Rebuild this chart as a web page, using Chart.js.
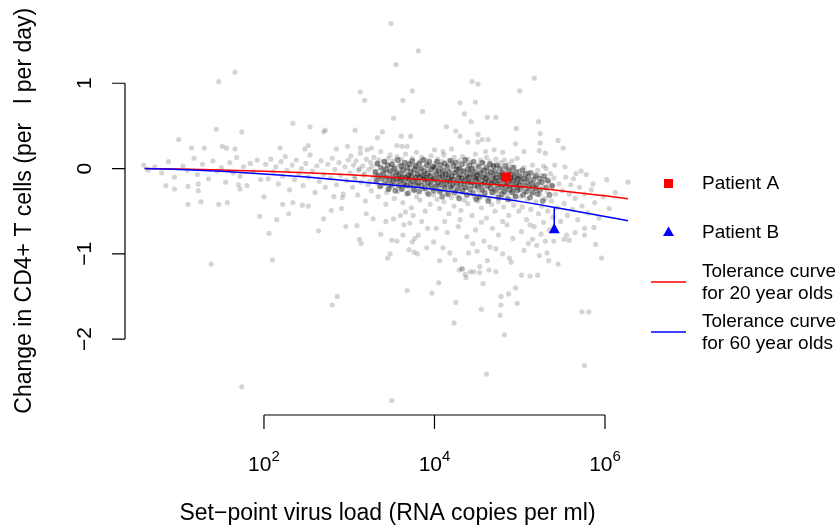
<!DOCTYPE html>
<html>
<head>
<meta charset="utf-8">
<script src="https://cdn.jsdelivr.net/npm/chart.js@4.4.1/dist/chart.umd.min.js"></script>
<style>
  body { margin: 0; background: #fff; }
</style>
</head>
<body>
<canvas id="chartCD4" width="838" height="526"></canvas>
<script>
// values are [log10 set-point virus load, change in CD4+ T cells per ul per day]
const spreadLeft = [
  [0.59,0.04],[0.64,-0.02],[0.72,0.02],[0.8,-0.05],[0.85,-0.2],[0.88,0.08],[0.95,-0.1],[0.95,-0.24],
  [1.05,0.03],[1.1,-0.02],[1.11,-0.21],[1.11,-0.42],[1.18,0.12],[1.22,-0.07],[1.23,-0.18],[1.23,-0.26],
  [1.26,-0.39],[1.28,0.05],[1.35,-0.12],[1.38,-1.12],[1.4,0.09],[1.45,-0.03],[1.47,-0.42],[1.5,0.01],
  [1.55,-0.16],[1.57,-0.4],[1.6,0.07],[1.64,-0.05],[1.68,0.13],[1.7,-0.19],[1.72,-0.09],[1.72,-0.24],
  [1.74,-2.56],[1.76,0.02],[1.8,-0.2],[1.84,0.06],[1.88,-0.04],[1.92,0.1],[1.95,-0.56],[1.96,-0.13],
  [2.0,-0.33],[2.02,0.05],[2.05,-0.12],[2.06,-0.76],[2.08,0.11],[2.1,-1.07],[2.11,-0.04],[2.14,0.02],
  [2.15,-0.6],[2.17,-0.18],[2.2,0.08],[2.22,-0.09],[2.22,-0.42],[2.25,0.14],[2.27,-0.02],[2.29,-0.53],
  [2.3,-0.25],[2.33,0.04],[2.34,-0.4],[2.36,-0.13],[2.38,0.1],[2.41,-0.06],[2.44,0.0],[2.45,-0.43],
  [2.46,-0.2],[2.49,0.06],[2.52,-0.1],[2.52,-0.44],[2.54,0.16],[2.57,-0.03],[2.6,-0.28],[2.62,0.03],
  [2.64,-0.73],[2.65,-0.15],[2.67,0.09],[2.7,-0.07],[2.7,-0.59],[2.72,-0.22],[2.75,0.05],[2.78,-0.11],
  [2.79,-0.49],[2.8,0.12],[2.8,-1.6],[2.82,-0.33],[2.83,-0.01],[2.85,-0.19],[2.86,-1.5],[2.88,0.07],
  [2.9,-0.08],[2.91,-0.47],[2.92,-0.34],[2.93,-0.3],[2.95,0.02],[2.96,-0.68],[2.97,-0.14],[2.99,0.1]
];

const cloudCore = [
  [3.01,-0.05],[3.02,0.15],[3.04,-0.22],[3.05,0.04],[3.06,-0.09],[3.07,-0.12],[3.08,0.09],[3.09,-0.67],
  [3.1,-0.31],[3.11,-0.02],[3.12,0.0],[3.12,-0.83],[3.13,0.18],[3.14,-0.16],[3.14,-0.88],[3.16,0.03],
  [3.17,-0.08],[3.18,-0.06],[3.19,-0.38],[3.2,0.11],[3.2,-0.53],[3.22,-0.19],[3.23,-0.01],[3.24,-0.15],
  [3.25,0.07],[3.26,-0.26],[3.27,0.02],[3.28,-0.1],[3.28,-0.59],[3.29,0.13],[3.3,-0.04],[3.31,-0.09],
  [3.32,-0.14],[3.33,0.05],[3.34,-0.33],[3.35,0.1],[3.36,-0.07],[3.37,0.2],[3.37,-0.77],[3.38,-0.2],
  [3.39,-0.05],[3.4,0.0],[3.41,-0.11],[3.42,0.08],[3.43,-0.42],[3.43,-0.62],[3.44,-0.03],[3.44,-0.28],
  [3.45,-0.17],[3.46,0.12],[3.47,-0.24],[3.48,-0.06],[3.48,0.16],[3.49,0.03],[3.5,-0.13],[3.5,-0.84],
  [3.51,-0.02],[3.51,-0.21],[3.52,0.09],[3.52,-0.59],[3.53,-0.12],[3.53,-0.35],[3.54,0.02],[3.55,-0.08],
  [3.55,-0.18],[3.56,0.14],[3.56,-0.85],[3.57,-0.04],[3.57,-0.27],[3.58,-0.11],[3.59,0.05],[3.59,-0.15],
  [3.6,-0.01],[3.6,-0.55],[3.61,-0.23],[3.61,0.11],[3.62,-0.07],[3.63,-0.4],[3.63,-0.13],[3.63,-0.78],
  [3.64,0.03],[3.64,-0.66],[3.65,-0.19],[3.65,-0.05],[3.66,0.17],[3.66,-0.51],[3.67,-0.1],[3.67,-0.3],
  [3.68,-0.02],[3.69,-0.16],[3.69,0.07],[3.7,-0.08],[3.7,-0.95],[3.71,-0.22],[3.71,-0.12],[3.71,-0.64],
  [3.72,0.01],[3.73,-0.46],[3.73,-0.06],[3.74,0.12],[3.74,-0.86],[3.75,-0.18],[3.75,-0.03],[3.75,-0.55],
  [3.76,-0.26],[3.76,-0.98],[3.77,0.04],[3.77,-0.1],[3.77,-0.82],[3.78,-0.14],[3.79,0.19],[3.79,-0.33],
  [3.8,-0.07],[3.8,-1.0],[3.81,0.0],[3.81,-0.2],[3.81,-0.78],[3.82,-0.11],[3.83,0.08],[3.83,-0.37],
  [3.84,-0.04],[3.85,-0.15],[3.85,0.13],[3.85,-0.62],[3.86,-0.24],[3.87,-0.09],[3.87,0.02],[3.88,-0.17],
  [3.89,-0.5],[3.89,-0.06],[3.9,0.1],[3.91,-0.13],[3.91,-0.28],[3.91,-0.93],[3.92,-0.01],[3.92,-0.7],
  [3.93,-0.2],[3.93,0.05],[3.94,-0.09],[3.95,-0.42],[3.95,-0.16],[3.96,0.15],[3.97,-0.05],[3.97,-0.23],
  [3.98,-0.12],[3.99,0.03],[3.99,-0.31],[3.99,-0.86],
  [4.0,-0.08],[4.01,-0.19],[4.01,0.06],[4.02,-0.14],[4.02,-0.7],[4.03,-0.36],[4.03,-0.03],[4.04,0.11],
  [4.05,-0.22],[4.05,-0.1],[4.06,-0.47],[4.07,0.0],[4.07,-0.17],[4.08,-0.27],[4.09,0.08],[4.09,-0.06],
  [4.1,-0.13],[4.1,-0.93],[4.11,-0.39],[4.11,0.16],[4.12,-0.21],[4.12,-0.62],[4.13,-0.04],[4.13,-0.11],
  [4.14,-0.3],[4.15,0.04],[4.15,-0.16],[4.15,-0.75],[4.16,-0.08],[4.17,-0.53],[4.17,0.1],[4.18,-0.24],
  [4.18,-0.99],[4.19,-0.02],[4.19,-0.14],[4.2,-0.34],[4.21,0.07],[4.21,-0.09],[4.22,-0.19],[4.23,0.13],
  [4.23,-0.44],[4.24,-0.05],[4.25,-0.26],[4.25,-0.12],[4.26,0.02],[4.27,-0.17],[4.27,-0.32],[4.28,-0.07],
  [4.28,-0.68],[4.29,0.09],[4.29,-0.22],[4.3,-0.14],[4.3,-0.6],[4.31,-0.49],[4.31,-0.01],[4.32,-0.1],
  [4.33,0.14],[4.33,-0.28],[4.34,-0.18],[4.35,-0.04],[4.35,-0.37],[4.36,0.05],[4.37,-0.12],[4.37,-0.23],
  [4.38,-0.07],[4.38,-0.8],[4.39,0.11],[4.39,-0.41],[4.4,-0.15],[4.4,-0.99],[4.41,-0.02],[4.41,-0.29],
  [4.42,-0.1],[4.43,0.07],[4.43,-0.2],[4.44,-0.55],[4.45,-0.05],[4.45,-0.16],[4.45,-0.88],[4.46,0.01],
  [4.47,-0.33],[4.47,-0.11],[4.48,0.17],[4.48,-0.72],[4.49,-0.25],[4.49,-0.08],
  [4.5,-0.13],[4.5,-0.97],[4.51,0.04],[4.51,-0.38],[4.52,-0.2],[4.53,-0.06],[4.53,-0.27],[4.54,0.1],
  [4.55,-0.15],[4.55,-0.46],[4.55,-0.63],[4.56,-0.02],[4.57,-0.22],[4.57,-0.1],[4.58,0.06],[4.58,-0.85],
  [4.59,-0.32],[4.59,-0.17],[4.6,-0.07],[4.61,-0.58],[4.61,0.13],[4.62,-0.24],[4.62,-1.08],[4.63,-0.12],
  [4.63,-0.01],[4.64,-0.35],[4.65,-0.19],[4.65,0.08],[4.65,-0.92],[4.66,-0.09],[4.67,-0.42],[4.67,-0.28],
  [4.68,-0.04],[4.68,-0.7],[4.69,-0.16],[4.69,0.02],[4.7,-0.23],[4.71,-0.5],[4.71,-0.11],[4.72,0.11],
  [4.72,-0.94],[4.73,-0.3],[4.73,-0.06],[4.74,-0.18],[4.75,-0.39],[4.75,0.03],[4.75,-0.78],[4.76,-0.14],
  [4.77,-0.26],[4.77,-0.08],[4.78,0.07],[4.79,-0.34],[4.79,-0.2],[4.8,-0.02],[4.8,-0.62],[4.8,-1.0],
  [4.81,-0.12],[4.81,-0.45],[4.82,0.1],[4.83,-0.25],[4.83,-0.07],[4.84,-0.17],[4.85,0.0],[4.85,-0.31],
  [4.85,-0.66],[4.86,-0.1],[4.87,-0.55],[4.87,0.05],[4.88,-0.21],[4.88,-1.05],[4.89,-0.13],[4.89,-0.37],
  [4.9,-0.04],[4.9,-1.1],[4.91,0.09],[4.91,-0.27],[4.92,-0.16],[4.92,-0.82],[4.93,-0.06],[4.93,-0.43],
  [4.94,0.02],[4.95,-0.19],[4.95,-0.32],[4.96,-0.09],[4.97,0.12],[4.97,-0.24],[4.98,-0.14],[4.99,-0.5],
  [4.99,-0.03],
  [5.0,-0.18],[5.01,-0.33],[5.02,-0.08],[5.02,-0.74],[5.03,-0.45],[5.04,-0.21],[5.05,0.01],[5.05,-0.96],
  [5.06,-0.27],[5.07,-0.12],[5.08,-0.6],[5.09,-0.36],[5.1,-0.05],[5.1,-0.88],[5.11,-0.24],[5.12,-0.15],
  [5.12,-0.66],[5.13,-0.48],[5.14,-0.3],[5.15,0.04],[5.15,-0.83],[5.16,-0.2],[5.17,-0.68],[5.18,-0.1],
  [5.19,-0.39],[5.2,-0.26],[5.2,-0.9],[5.21,-0.02],[5.22,-0.53],[5.23,-0.17],[5.24,-0.31],[5.25,-0.08],
  [5.25,-0.77],[5.26,-0.44],[5.27,-0.22],[5.28,-0.63],[5.29,-0.13],[5.3,-0.35],[5.3,-0.85],[5.31,0.0],
  [5.32,-0.27],[5.33,-0.5],[5.34,-0.16],[5.35,-0.72],[5.36,-0.06],[5.37,-0.38],[5.38,-0.21],[5.39,-0.57],
  [5.4,-0.11],[5.4,-0.68],[5.4,-0.85],[5.42,-0.3],[5.44,-0.46],[5.46,-0.18],[5.48,-0.62],
  [5.5,-0.26],[5.52,-0.41],[5.52,-0.83],[5.54,-0.1],[5.55,-0.78],[5.56,-0.55],[5.58,-0.3],[5.58,-0.84],
  [5.6,-0.19],[5.62,-0.48],[5.65,-0.35],[5.65,-0.75],[5.68,-0.6],[5.7,-0.22],[5.73,-0.44],[5.76,-0.3],
  [5.8,-0.52],[5.84,-0.25],[5.88,-0.4],[5.93,-0.58],[5.98,-0.33],[6.05,-0.47],[6.12,-0.28]
];

// the darkest band, where most individuals overlap
const cloudDense = [
  [3.31,-0.04],[3.32,-0.15],[3.33,0.06],[3.34,-0.09],[3.36,-0.21],[3.37,0.01],[3.38,-0.12],
  [3.4,-0.06],[3.41,0.08],[3.42,-0.17],[3.43,-0.01],[3.44,-0.1],[3.45,0.04],[3.46,-0.24],[3.47,-0.13],
  [3.48,-0.03],[3.49,-0.19],[3.5,0.05],[3.51,-0.09],[3.52,-0.15],[3.53,0.0],[3.54,-0.26],[3.55,-0.05],
  [3.56,-0.12],[3.57,0.1],[3.58,-0.2],[3.59,-0.07],[3.6,-0.14],[3.61,0.03],[3.62,-0.1],[3.62,-0.24],
  [3.63,-0.02],[3.64,-0.17],[3.65,0.07],[3.66,-0.11],[3.67,-0.2],[3.68,0.01],[3.69,-0.08],[3.69,-0.29],
  [3.7,-0.13],[3.71,0.05],[3.72,-0.04],[3.72,-0.19],[3.73,-0.09],[3.74,0.09],[3.75,-0.15],[3.76,-0.25],
  [3.77,-0.01],[3.78,-0.11],[3.78,0.03],[3.79,-0.2],[3.8,-0.06],[3.81,-0.16],[3.82,0.06],[3.82,-0.27],
  [3.83,-0.1],[3.84,0.0],[3.85,-0.2],[3.86,-0.08],[3.87,0.1],[3.88,-0.13],[3.88,-0.03],[3.89,-0.23],
  [3.9,-0.11],[3.91,0.04],[3.92,-0.17],[3.92,-0.06],[3.93,-0.3],[3.94,0.08],[3.95,-0.09],[3.96,-0.2],
  [3.96,-0.01],[3.97,-0.14],[3.98,0.02],[3.99,-0.26],
  [4.0,-0.12],[4.01,0.01],[4.02,-0.06],[4.02,-0.21],[4.03,0.08],[4.04,-0.16],[4.05,-0.03],[4.06,-0.27],
  [4.06,-0.1],[4.07,0.04],[4.08,-0.19],[4.09,-0.08],[4.09,-0.33],[4.1,-0.02],[4.11,-0.14],[4.12,0.06],
  [4.12,-0.23],[4.13,-0.07],[4.14,-0.18],[4.15,0.02],[4.16,-0.11],[4.16,-0.3],[4.17,-0.04],[4.18,-0.15],
  [4.19,0.09],[4.19,-0.22],[4.2,-0.09],[4.21,-0.2],[4.22,0.03],[4.22,-0.13],[4.23,-0.28],[4.24,-0.05],
  [4.25,0.07],[4.26,-0.17],[4.26,-0.01],[4.27,-0.24],[4.28,-0.11],[4.29,0.0],[4.29,-0.35],[4.3,-0.07],
  [4.31,-0.19],[4.32,0.05],[4.32,-0.12],[4.33,-0.26],[4.34,-0.03],[4.35,-0.15],[4.36,0.1],[4.36,-0.22],
  [4.37,-0.09],[4.38,-0.31],[4.39,-0.01],[4.39,-0.17],[4.4,-0.11],[4.41,0.04],[4.42,-0.24],[4.42,-0.06],
  [4.43,-0.16],[4.44,0.0],[4.45,-0.29],[4.46,-0.1],[4.46,0.08],[4.47,-0.2],[4.48,-0.04],[4.49,-0.14],
  [4.49,-0.36],[4.5,-0.08],[4.51,-0.21],[4.52,0.02],[4.52,-0.12],[4.53,-0.33],[4.54,-0.05],[4.55,-0.18],
  [4.56,0.07],[4.56,-0.25],[4.57,-0.1],[4.58,-0.02],[4.59,-0.16],[4.59,-0.29],[4.6,-0.12],[4.61,0.01],
  [4.62,-0.2],[4.62,-0.07],[4.63,-0.38],[4.64,-0.14],[4.65,0.05],[4.66,-0.23],[4.66,-0.04],[4.67,-0.17],
  [4.68,-0.28],[4.69,-0.09],[4.69,0.03],[4.7,-0.15],[4.71,-0.03],[4.72,-0.25],[4.72,-0.11],[4.73,0.04],
  [4.74,-0.19],[4.75,-0.34],[4.76,-0.07],[4.76,-0.14],[4.77,0.0],[4.78,-0.22],[4.79,-0.1],[4.79,-0.3],
  [4.8,-0.05],[4.81,-0.18],[4.82,-0.27],[4.82,-0.12],[4.83,0.03],[4.84,-0.21],[4.85,-0.08],[4.86,-0.36],
  [4.86,-0.15],[4.87,-0.02],[4.88,-0.25],[4.89,-0.11],[4.89,-0.19],[4.9,-0.07],[4.91,-0.28],[4.92,-0.14],
  [4.92,0.01],[4.93,-0.22],[4.94,-0.1],[4.95,-0.33],[4.96,-0.17],[4.96,-0.04],[4.97,-0.26],[4.98,-0.12],
  [4.99,-0.2],[5.0,-0.09],[5.01,-0.24],[5.02,-0.15],[5.03,-0.02],[5.04,-0.31],[5.05,-0.12],[5.06,-0.2],
  [5.07,-0.06],[5.08,-0.27],[5.09,-0.16],[5.1,-0.1],[5.11,-0.22],[5.12,-0.34],[5.13,-0.05],[5.14,-0.18],
  [5.15,-0.28],[5.16,-0.13],[5.18,-0.23],[5.19,-0.08],[5.2,-0.19],[5.21,-0.3],[5.23,-0.12],[5.24,-0.25],
  [5.26,-0.16],[5.27,-0.38],[5.29,-0.09],[5.31,-0.22],[5.33,-0.14],[5.35,-0.31],[5.38,-0.2]
];

const outliers = [
  [3.49,1.7],[3.81,1.38],[3.55,1.22],[1.66,1.13],[1.47,1.02],[3.13,0.9],[3.18,0.8],[3.63,0.8],
  [3.74,0.91],[3.52,0.59],[2.34,0.53],[2.54,0.49],[1.44,0.46],[1.74,0.43],[2.7,0.43],[2.72,0.45],
  [3.07,0.45],[3.39,0.43],[1.0,0.34],[3.33,0.36],[3.61,0.38],[3.72,0.38],[3.56,0.27],[3.62,0.26],
  [3.68,0.26],[1.15,0.24],[1.3,0.24],[1.51,0.26],[1.56,0.24],[1.66,0.23],[2.19,0.24],[2.48,0.23],
  [2.52,0.27],[2.85,0.23],[2.98,0.26],[3.13,0.24],[3.21,0.22],[3.26,0.24],
  [5.17,1.06],[4.44,1.02],[4.51,0.99],[5.0,0.91],[4.48,0.78],[4.3,0.77],[3.86,0.67],[4.35,0.64],
  [4.62,0.6],[4.72,0.6],[4.43,0.55],[5.22,0.55],[4.14,0.49],[4.25,0.44],[4.3,0.38],[4.96,0.47],
  [5.24,0.41],[4.51,0.4],[4.56,0.34],[4.63,0.34],[4.39,0.31],[4.51,0.31],[5.45,0.33],[5.24,0.3],
  [5.51,0.24],[5.23,0.21],[4.95,0.29],[4.0,0.22],[4.1,0.2],[4.2,0.23],[4.6,0.2],[4.7,0.22],
  [4.8,0.19],[5.05,0.2],[5.3,0.18],
  [6.02,-0.13],[6.27,-0.16],[5.86,-0.18],[5.78,-0.07],[5.72,-0.03],[5.66,-0.06],[5.63,-0.12],[5.53,0.02],
  [5.41,0.04],[5.28,0.03],
  [3.45,-1.05],[3.48,-1.0],[3.5,-2.72],[3.68,-1.43],[3.97,-1.46],[4.05,-1.34],[4.25,-1.57],[4.23,-1.81],
  [4.55,-1.65],[4.61,-2.41],[4.78,-1.5],[4.87,-1.47],[4.95,-1.4],[4.97,-1.58],[4.78,-1.6],[4.77,-1.72],
  [4.82,-1.95],[5.73,-1.68],[5.81,-1.68],[5.76,-2.31],[5.96,-1.05],[5.89,-0.89],[5.76,-0.7],[5.76,-0.78],
  [5.87,-0.69],[5.45,-1.12],[5.34,-1.08],[5.32,-0.99],[5.23,-1.02],[5.21,-1.25],[5.12,-1.26],[5.02,-1.25],
  [4.72,-1.21],[4.64,-1.19],[4.53,-1.15],[4.53,-1.22],[4.46,-1.21],[4.42,-1.21],[4.36,-1.24],[4.37,-1.28],
  [4.33,-1.18],[4.29,-1.19],[4.57,-1.35],[4.06,-1.08],[4.24,-1.07],[4.32,-1.17]
];

// tolerance curves
const curve20 = [[0.6,0],[1,-0.005],[1.5,-0.018],[2,-0.033],[2.5,-0.05],[3,-0.073],[3.5,-0.103],
  [4,-0.138],[4.5,-0.172],[5,-0.212],[5.5,-0.262],[6,-0.32],[6.27,-0.353]];
const curve60 = [[0.6,0],[1,-0.01],[1.5,-0.033],[2,-0.063],[2.5,-0.1],[3,-0.145],[3.5,-0.192],
  [4,-0.245],[4.5,-0.312],[5,-0.385],[5.5,-0.472],[6,-0.562],[6.27,-0.613]];

// patients: [log10 load, observed change, curve value at that load]
const patientA = [4.84, -0.1, -0.2];
const patientB = [5.405, -0.72, -0.455];

const xTickExp = [2, 4, 6];
const yTicks = [-2, -1, 0, 1];

const toXY = arr => arr.map(p => ({ x: Math.pow(10, p[0]), y: p[1] }));
const FONT = '"Liberation Sans", Arial, Helvetica, sans-serif';

// R style axes, titles and legend
const rDecor = {
  id: "rDecor",
  afterDraw(chart) {
    const ctx = chart.ctx;
    const xs = chart.scales.x, ys = chart.scales.y, area = chart.chartArea;
    ctx.save();
    ctx.strokeStyle = "#000";
    ctx.fillStyle = "#000";
    ctx.lineWidth = 1.2;

    // x axis
    const xb = area.bottom;
    const xp = xTickExp.map(e => xs.getPixelForValue(Math.pow(10, e)));
    ctx.beginPath();
    ctx.moveTo(xp[0], xb);
    ctx.lineTo(xp[xp.length - 1], xb);
    xp.forEach(px => { ctx.moveTo(px, xb); ctx.lineTo(px, xb + 14); });
    ctx.stroke();
    xTickExp.forEach((e, i) => {
      ctx.font = "21px " + FONT;
      const w1 = ctx.measureText("10").width;
      ctx.font = "15px " + FONT;
      const w2 = ctx.measureText(String(e)).width;
      const start = xp[i] - (w1 + w2) / 2;
      ctx.textAlign = "left";
      ctx.textBaseline = "alphabetic";
      ctx.font = "21px " + FONT;
      ctx.fillText("10", start, 471);
      ctx.font = "15px " + FONT;
      ctx.fillText(String(e), start + w1, 461);
    });

    // y axis
    const yl = area.left;
    const yp = yTicks.map(v => ys.getPixelForValue(v));
    ctx.beginPath();
    ctx.moveTo(yl, yp[0]);
    ctx.lineTo(yl, yp[yp.length - 1]);
    yp.forEach(py => { ctx.moveTo(yl, py); ctx.lineTo(yl - 13, py); });
    ctx.stroke();
    ctx.font = "21px " + FONT;
    ctx.textAlign = "center";
    ctx.textBaseline = "alphabetic";
    yTicks.forEach((v, i) => {
      ctx.save();
      ctx.translate(91, yp[i]);
      ctx.rotate(-Math.PI / 2);
      ctx.fillText(v < 0 ? "\u2212" + Math.abs(v) : String(v), 0, 0);
      ctx.restore();
    });

    // titles
    ctx.font = "23px " + FONT;
    ctx.fillText("Set\u2212point virus load (RNA copies per ml)", (area.left + area.right) / 2, 520);
    ctx.save();
    ctx.translate(31, (area.top + area.bottom) / 2);
    ctx.rotate(-Math.PI / 2);
    ctx.fillText("Change in CD4+ T cells (per   l per day)", 0, 0);
    ctx.restore();

    // legend
    ctx.font = "19px " + FONT;
    ctx.textAlign = "left";
    ctx.textBaseline = "middle";
    ctx.fillStyle = "#ff0000";
    ctx.fillRect(664, 179, 9, 9);
    ctx.fillStyle = "#0000ff";
    ctx.beginPath();
    ctx.moveTo(668.5, 226.5);
    ctx.lineTo(674, 236);
    ctx.lineTo(663, 236);
    ctx.closePath();
    ctx.fill();
    ctx.lineWidth = 1.5;
    ctx.strokeStyle = "#ff0000";
    ctx.beginPath(); ctx.moveTo(651, 282); ctx.lineTo(686, 282); ctx.stroke();
    ctx.strokeStyle = "#0000ff";
    ctx.beginPath(); ctx.moveTo(651, 332); ctx.lineTo(686, 332); ctx.stroke();
    ctx.fillStyle = "#000";
    ctx.fillText("Patient A", 702, 184);
    ctx.fillText("Patient B", 702, 233);
    ctx.fillText("Tolerance curve", 702, 272);
    ctx.fillText("for 20 year olds", 702, 294);
    ctx.fillText("Tolerance curve", 702, 322);
    ctx.fillText("for 60 year olds", 702, 344);
    ctx.restore();
  }
};

const ctx = document.getElementById("chartCD4");
new Chart(ctx, {
  type: "scatter",
  data: {
    datasets: [
      {
        label: "Patient A",
        data: toXY([patientA]),
        pointStyle: "rect",
        pointRadius: 6.5,
        pointBorderWidth: 0,
        backgroundColor: "#ff0000",
        order: 0,
        clip: false
      },
      {
        label: "Patient B",
        data: toXY([patientB]),
        pointStyle: "triangle",
        pointRadius: 6.4,
        pointBorderWidth: 0,
        backgroundColor: "#0000ff",
        order: 0,
        clip: false
      },
      {
        label: "A link",
        data: toXY([[patientA[0], patientA[1]], [patientA[0], patientA[2]]]),
        showLine: true,
        pointRadius: 0,
        borderColor: "#ff0000",
        borderWidth: 1.5,
        order: 1
      },
      {
        label: "B link",
        data: toXY([[patientB[0], patientB[1]], [patientB[0], patientB[2]]]),
        showLine: true,
        pointRadius: 0,
        borderColor: "#0000ff",
        borderWidth: 1.5,
        order: 1
      },
      {
        label: "Tolerance curve for 60 year olds",
        data: toXY(curve60),
        showLine: true,
        pointRadius: 0,
        borderColor: "#0000ff",
        borderWidth: 1.5,
        cubicInterpolationMode: "monotone",
        order: 1
      },
      {
        label: "Tolerance curve for 20 year olds",
        data: toXY(curve20),
        showLine: true,
        pointRadius: 0,
        borderColor: "#ff0000",
        borderWidth: 1.5,
        cubicInterpolationMode: "monotone",
        order: 2
      },
      {
        label: "Individuals (dense band)",
        data: toXY(cloudDense),
        pointRadius: 2.9,
        pointBorderWidth: 0,
        backgroundColor: "rgba(0,0,0,0.4)",
        order: 3,
        clip: false
      },
      {
        label: "Individuals",
        data: toXY(spreadLeft.concat(cloudCore, outliers)),
        pointRadius: 2.6,
        pointBorderWidth: 0,
        backgroundColor: "rgba(0,0,0,0.17)",
        order: 4,
        clip: false
      }
    ]
  },
  options: {
    responsive: false,
    devicePixelRatio: 1,
    animation: false,
    layout: { padding: { left: 125, right: 188, top: 3, bottom: 111 } },
    plugins: { legend: { display: false }, tooltip: { enabled: false } },
    scales: {
      x: { type: "logarithmic", display: false, min: Math.pow(10, 0.37), max: Math.pow(10, 6.528) },
      y: { type: "linear", display: false, min: -2.89, max: 1.9 }
    }
  },
  plugins: [rDecor]
});
</script>
</body>
</html>
